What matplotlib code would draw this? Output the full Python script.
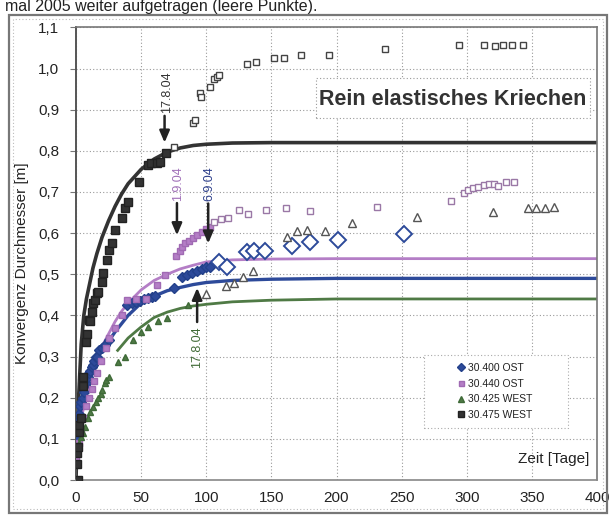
import matplotlib
matplotlib.use("Agg")
import matplotlib.pyplot as plt
from matplotlib.patches import Rectangle
from matplotlib.ticker import FuncFormatter, MultipleLocator

plt.rcParams['font.family'] = ['Liberation Sans', 'DejaVu Sans']

# ---------------- data ----------------
# 30.400 OST  (blue diamonds)
ost400_t = [0, 1, 2, 3, 4, 5, 6, 7, 8, 9, 10, 11, 12, 13, 14, 15, 16, 18, 20, 22, 25,
            39, 43, 46, 49, 52, 55, 58, 61, 75, 81, 85, 89, 93, 97, 100, 103]
ost400_v = [0.10, 0.14, 0.16, 0.18, 0.19, 0.20, 0.215, 0.23, 0.235, 0.25, 0.26, 0.265, 0.275,
            0.28, 0.29, 0.30, 0.30, 0.316, 0.32, 0.328, 0.34,
            0.425, 0.43, 0.432, 0.436, 0.44, 0.442, 0.445, 0.447, 0.466, 0.494, 0.498,
            0.504, 0.509, 0.512, 0.517, 0.518]
ost400_open_t = [110, 116, 131, 137, 145, 166, 180, 201, 252]
ost400_open_v = [0.53, 0.517, 0.553, 0.556, 0.556, 0.568, 0.578, 0.583, 0.598]

# 30.440 OST  (violet squares)
ost440_t = [0, 2, 4, 6, 8, 10, 12, 14, 16, 19, 23, 25, 30, 35, 39, 46, 54, 62, 68,
            77, 79.5, 81, 84, 87, 90, 93, 97, 100, 103]
ost440_v = [0.05, 0.09, 0.12, 0.15, 0.18, 0.20, 0.22, 0.24, 0.26, 0.29, 0.32, 0.345, 0.37,
            0.40, 0.437, 0.44, 0.44, 0.474, 0.498,
            0.544, 0.557, 0.567, 0.575, 0.582, 0.587, 0.595, 0.603, 0.609, 0.616]
ost440_open_t = [106, 111, 117, 125, 132, 146, 161, 180, 231, 288, 298, 301, 305, 309,
                 313, 317, 321, 324, 330, 336]
ost440_open_v = [0.628, 0.634, 0.636, 0.655, 0.646, 0.655, 0.66, 0.654, 0.663, 0.678,
                 0.697, 0.705, 0.71, 0.713, 0.716, 0.72, 0.72, 0.715, 0.724, 0.724]

# 30.425 WEST  (green triangles)
west425_t = [0, 1, 2, 4, 5, 7, 9, 11, 13, 15, 17, 19, 20, 22, 23, 25,
             32.5, 37.7, 44, 50, 55.6, 63, 70, 86]
west425_v = [0.065, 0.07, 0.09, 0.105, 0.115, 0.13, 0.15, 0.165, 0.178, 0.19, 0.20, 0.21,
             0.219, 0.235, 0.243, 0.251, 0.288, 0.30, 0.34, 0.36, 0.373, 0.387, 0.393, 0.425]
west425_open_t = [100, 115, 121, 128, 136, 162, 170, 177, 191, 212, 262, 320, 347, 353, 360, 367]
west425_open_v = [0.452, 0.471, 0.48, 0.493, 0.509, 0.591, 0.606, 0.607, 0.605, 0.624,
                  0.638, 0.652, 0.66, 0.66, 0.66, 0.664]

# 30.475 WEST  (black squares)
west475_t = [0.8, 1, 1.3, 1.8, 2, 2.5, 3.6, 5, 5.6, 7.7, 8.7, 10, 10.8, 12, 12.8, 14.6, 16,
             17, 19.7, 21, 23.6, 25.6, 27.4, 30, 35, 37.7, 40, 48, 55.6, 57.5, 62, 64.6, 69]
west475_v = [0.065, 0.04, 0.0, 0.08, 0.117, 0.134, 0.15, 0.228, 0.251, 0.335, 0.356, 0.389,
             0.387, 0.409, 0.43, 0.437, 0.454, 0.458, 0.482, 0.502, 0.535, 0.559, 0.575,
             0.607, 0.636, 0.66, 0.676, 0.725, 0.766, 0.77, 0.77, 0.772, 0.794]
west475_open_t = [75, 90, 91, 95.4, 95.6, 102.5, 106, 108, 110, 131, 138, 152, 160, 173,
                  194, 237, 294, 313, 321.5, 328, 335, 343]
west475_open_v = [0.81, 0.868, 0.874, 0.94, 0.93, 0.956, 0.974, 0.98, 0.984, 1.012, 1.017,
                  1.026, 1.026, 1.034, 1.034, 1.047, 1.057, 1.057, 1.056, 1.057, 1.057, 1.058]

# fitted curves ("rein elastisches Kriechen"), read at selected times
fit_t = [0, 1, 2, 4, 6, 8, 10, 13, 16, 20, 25, 30, 35, 40, 50, 60, 70, 80, 90, 100,
         120, 150, 200, 400]
fit_black = [0.0, 0.12, 0.20, 0.33, 0.40, 0.44, 0.47, 0.515, 0.55, 0.59, 0.63, 0.665,
             0.695, 0.72, 0.755, 0.78, 0.797, 0.807, 0.813, 0.816, 0.819, 0.82, 0.82, 0.82]
fit_blue = [0.15, 0.16, 0.17, 0.19, 0.21, 0.235, 0.255, 0.275, 0.295, 0.315, 0.337, 0.36,
            0.38, 0.40, 0.43, 0.447, 0.46, 0.468, 0.475, 0.48, 0.485, 0.488, 0.49, 0.49]
fit_violet = [0.07, 0.09, 0.11, 0.145, 0.18, 0.21, 0.235, 0.27, 0.30, 0.325, 0.355, 0.385,
              0.41, 0.43, 0.462, 0.485, 0.50, 0.513, 0.522, 0.53, 0.535, 0.537, 0.538, 0.538]
fit_green_t = [32, 40, 50, 60, 70, 80, 90, 100, 120, 150, 200, 400]
fit_green = [0.315, 0.345, 0.372, 0.395, 0.408, 0.417, 0.423, 0.427, 0.433, 0.437, 0.44, 0.44]

labels = ['30.400 OST', '30.440 OST', '30.425 WEST', '30.475 WEST']
x_ticks = [0, 50, 100, 150, 200, 250, 300, 350, 400]

# ---------------- figure ----------------
C_BLUE = '#2d4a9a'
C_VIOL = '#b47ec6'
C_GREEN = '#4f7a45'
C_BLACK = '#333333'

fig = plt.figure(figsize=(6.12, 5.18), dpi=100)
W, H = 612, 518

# outer frame of the scanned figure
fig.patches.append(Rectangle((9 / W, 1 - 513 / H), 598 / W, 498 / H, transform=fig.transFigure,
                             fill=False, edgecolor='#777777', lw=1.6))
fig.patches.append(Rectangle((13 / W, 1 - 509 / H), 590 / W, 490 / H, transform=fig.transFigure,
                             fill=False, edgecolor='#bbbbbb', lw=0.8, ls=(0, (1, 2))))

# caption line at the top (cropped in the scan)
fig.text(5 / W, 1 - 10.5 / H, 'mal 2005 weiter aufgetragen (leere Punkte).', fontsize=11.5,
         color='#222222', va='baseline', ha='left')

ax = fig.add_axes([76 / W, 38 / H, 521 / W, 452.6 / H])
ax.set_xlim(0, 400)
ax.set_ylim(0, 1.1)
ax.set_xticks(x_ticks)
ax.yaxis.set_major_locator(MultipleLocator(0.1))
ax.yaxis.set_major_formatter(FuncFormatter(lambda v, p: f'{v:.1f}'.replace('.', ',')))
ax.tick_params(axis='both', labelsize=11, colors='#222222')
ax.tick_params(axis='y', length=4, pad=8, color='#777777')
ax.tick_params(axis='x', length=0, pad=8)
ax.grid(True, ls=(0, (1, 2)), color='#9a9a9a', lw=0.8)
ax.set_axisbelow(True)
for s in ['top', 'right']:
    ax.spines[s].set_color('#777777')
    ax.spines[s].set_linewidth(1.2)
ax.spines['left'].set_color('#555555')
ax.spines['left'].set_linewidth(1.4)
ax.spines['bottom'].set_color('#888888')
ax.spines['bottom'].set_linewidth(1.2)

ax.set_ylabel('Konvergenz Durchmesser [m]', fontsize=11, color='#222222')
ax.yaxis.set_label_coords(-0.090, 0.48)

# fitted curves
ax.plot(fit_t, fit_black, color=C_BLACK, lw=2.6, zorder=2, solid_capstyle='butt')
ax.plot(fit_t, fit_violet, color=C_VIOL, lw=2.0, zorder=2)
ax.plot(fit_t, fit_blue, color=C_BLUE, lw=2.4, zorder=2)
ax.plot(fit_green_t, fit_green, color=C_GREEN, lw=2.0, zorder=2)

# measured points (filled)
h1, = ax.plot(ost400_t, ost400_v, ls='none', marker='D', ms=5, color=C_BLUE,
              mec='#23408a', zorder=4)
h2, = ax.plot(ost440_t, ost440_v, ls='none', marker='s', ms=4.5, color=C_VIOL,
              mec='#a06ab3', zorder=4)
h3, = ax.plot(west425_t, west425_v, ls='none', marker='^', ms=5, color=C_GREEN,
              mec='#3f6a38', zorder=4)
h4, = ax.plot(west475_t, west475_v, ls='none', marker='s', ms=5.5, color=C_BLACK,
              mec='#222222', zorder=4)

# later measurements (empty points)
ax.plot(ost400_open_t, ost400_open_v, ls='none', marker='D', ms=8, mfc='white',
        mec=C_BLUE, mew=1.4, zorder=4)
ax.plot(ost440_open_t, ost440_open_v, ls='none', marker='s', ms=4.8, mfc='white',
        mec='#9a78a6', mew=1.0, zorder=4)
ax.plot(west425_open_t, west425_open_v, ls='none', marker='^', ms=5.5, mfc='white',
        mec='#555555', mew=1.0, zorder=4)
ax.plot(west475_open_t, west475_open_v, ls='none', marker='s', ms=4.8, mfc='white',
        mec='#444444', mew=1.0, zorder=4)

# date annotations with arrows
arrow = dict(arrowstyle='-|>,head_length=0.7,head_width=0.3', lw=1.8, color='#222222',
             shrinkA=0, shrinkB=0)
ax.annotate('', xy=(68, 0.82), xytext=(68, 0.885), arrowprops=arrow, zorder=5)
ax.text(70, 0.942, '17.8.04', rotation=90, ha='center', va='center', fontsize=9,
        color='#333333')
ax.annotate('', xy=(77.5, 0.595), xytext=(77.5, 0.673), arrowprops=arrow, zorder=5)
ax.text(78.5, 0.72, '1.9.04', rotation=90, ha='center', va='center', fontsize=9,
        color='#a070b8')
ax.annotate('', xy=(101.5, 0.575), xytext=(101.5, 0.672), arrowprops=arrow, zorder=5)
ax.text(102.5, 0.72, '6.9.04', rotation=90, ha='center', va='center', fontsize=9,
        color='#2d3f8c')
ax.annotate('', xy=(93, 0.467), xytext=(93, 0.384), arrowprops=arrow, zorder=5)
ax.text(93, 0.322, '17.8.04', rotation=90, ha='center', va='center', fontsize=9,
        color='#3f6a35')

# title box
ax.add_patch(Rectangle((184, 0.88), 210.5, 0.097, fill=True, facecolor='white',
                       edgecolor='#999999', lw=0.8, ls=(0, (1, 2)), zorder=3))
ax.text(289, 0.925, 'Rein elastisches Kriechen', fontsize=15.5, fontweight='bold',
        ha='center', va='center', color='#333333', zorder=5)

# axis title inside plot
ax.text(394.5, 0.052, 'Zeit [Tage]', fontsize=11, ha='right', va='center',
        color='#222222', zorder=5)

# legend
ax.add_patch(Rectangle((267, 0.126), 110.5, 0.178, fill=True, facecolor='white',
                       edgecolor='#aaaaaa', lw=0.8, ls=(0, (1, 2)), zorder=3))
leg = ax.legend([h1, h2, h3, h4], labels, loc='center', bbox_to_anchor=(322, 0.215),
                bbox_transform=ax.transData, frameon=False, fontsize=7.5,
                handlelength=0.6, handletextpad=0.4, labelspacing=0.55,
                markerscale=0.8, borderpad=0.2)
leg.set_zorder(6)
for t in leg.get_texts():
    t.set_color('#222222')

fig.savefig('out.png', dpi=100)
